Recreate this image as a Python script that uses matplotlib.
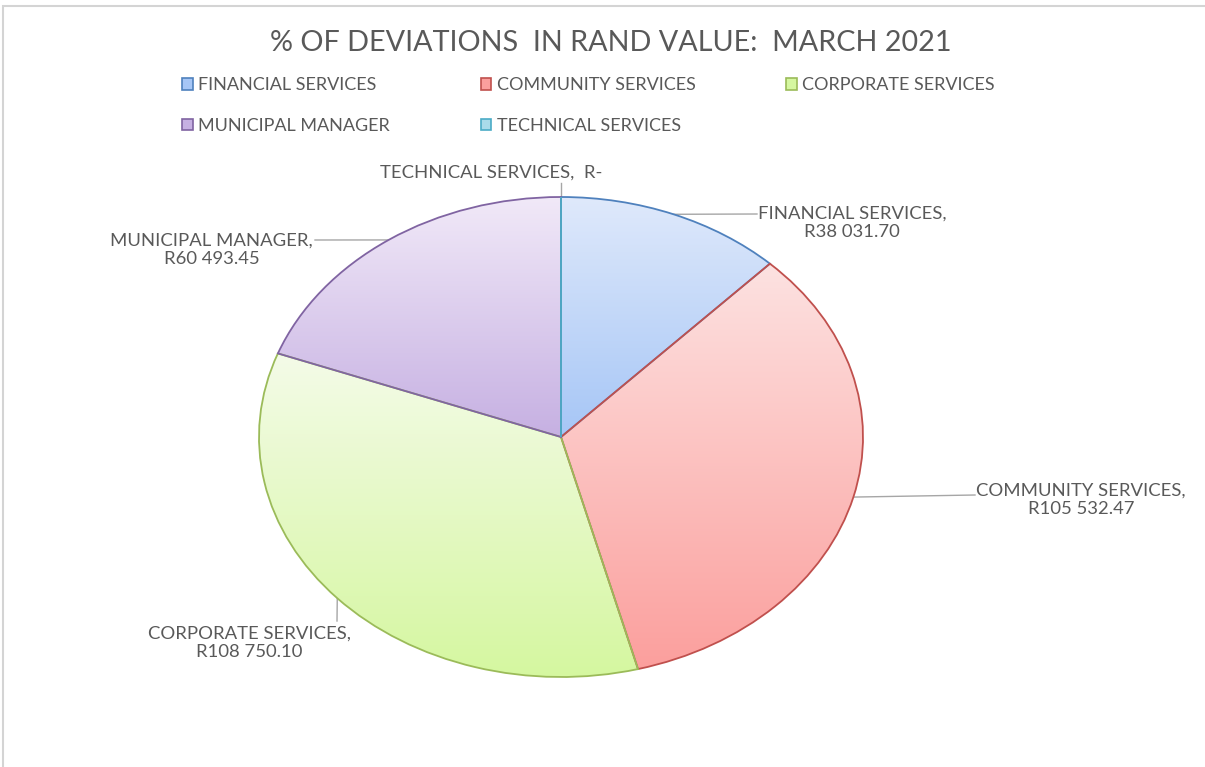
import numpy as np
import matplotlib
matplotlib.use("Agg")
import matplotlib.pyplot as plt
from matplotlib.colors import LinearSegmentedColormap
from matplotlib.patches import Patch, Rectangle

plt.rcParams['font.family'] = ['Lato', 'DejaVu Sans']

# deviations per department, rand
departments = ["FINANCIAL SERVICES", "COMMUNITY SERVICES", "CORPORATE SERVICES",
               "MUNICIPAL MANAGER", "TECHNICAL SERVICES"]
amounts = [38031.70, 105532.47, 108750.10, 60493.45, 0.0]
amount_labels = ["R38 031.70", "R105 532.47", "R108 750.10", "R60 493.45", "R-"]

# office style colours: outline, gradient top, gradient bottom
edge_colors = ["#4f81bd", "#c0504d", "#9bbb59", "#8064a2", "#4bacc6"]
top_colors = ["#dfe9fb", "#fde2e1", "#f4fbe8", "#f1e9f8", "#d8eff6"]
bottom_colors = ["#a6c6f6", "#fb9f9d", "#d5f7a0", "#c6b0e2", "#a9dbea"]

TEXT = "#595959"
W, H = 1205, 767
CX, CY, RX, RY = 561, 437, 302, 240   # pie centre and radii in pixels


def px(x, y):
    # pixel position -> data coords of the pie axes
    return (x - CX) / RX, (CY - y) / RY


fig = plt.figure(figsize=(W / 100, H / 100), dpi=100)
fig.patch.set_facecolor("white")
ax = fig.add_axes([0, 0, 1, 1])

wedges, _ = ax.pie(amounts, startangle=90, counterclock=False,
                   colors=top_colors, radius=1.0)
ax.set_aspect("auto")
ax.set_xlim(-CX / RX, (W - CX) / RX)
ax.set_ylim((CY - H) / RY, CY / RY)
ax.axis("off")

# gradient fill clipped to each wedge
for w, ec, c0, c1 in zip(wedges, edge_colors, top_colors, bottom_colors):
    w.set_facecolor("none")
    w.set_edgecolor(ec)
    w.set_linewidth(1.3)
    w.set_zorder(3)
    bb = w.get_path().get_extents(w.get_patch_transform())
    if bb.height <= 0 or bb.width <= 0:
        continue
    cmap = LinearSegmentedColormap.from_list("g", [c0, c1])
    grad = np.linspace(0, 1, 256).reshape(-1, 1)
    im = ax.imshow(grad, cmap=cmap, aspect="auto", origin="upper",
                   extent=(bb.x0, bb.x1, bb.y0, bb.y1), zorder=2,
                   interpolation="bilinear")
    im.set_clip_path(w)


def mid_point(w):
    a = np.deg2rad((w.theta1 + w.theta2) / 2)
    return np.cos(a), np.sin(a)


# data labels with leader lines
label_layout = [
    # leader end (px), text pos (px), ha
    ((757, 214), (758, 223), "left"),
    ((975, 495), (976, 500), "left"),
    ((337, 621), (249, 643), "center"),
    ((315, 240), (313, 250), "right"),
    ((561, 183), (491, 173), "center"),
]
for i, w in enumerate(wedges):
    (lx, ly), (tx, ty), ha = label_layout[i]
    sx, sy = mid_point(w)
    ex, ey = px(lx, ly)
    ax.plot([sx, ex], [sy, ey], color="#a6a6a6", lw=1.0, zorder=1)
    if amounts[i] == 0:
        txt = f"{departments[i]},  {amount_labels[i]}"
    else:
        txt = f"{departments[i]},\n{amount_labels[i]}"
    ax.text(*px(tx, ty), txt, ha=ha, va="center", multialignment="center",
            fontsize=13.3, color=TEXT, linespacing=1.15, zorder=4)

fig.text(611 / W, 1 - 43 / H, "% OF DEVIATIONS  IN RAND VALUE:  MARCH 2021",
         ha="center", va="center", fontsize=20.7, color=TEXT)

# legend laid out row by row: FIN, COMM, CORP / MUNI, TECH
order = [0, 3, 1, 4, 2]
handles = [Patch(facecolor=bottom_colors[i], edgecolor=edge_colors[i], lw=1.2)
           for i in order]
fig.legend(handles, [departments[i] for i in order], ncol=3,
           loc="upper left", bbox_to_anchor=(175 / W, 1 - 70 / H),
           frameon=False, fontsize=13, labelcolor=TEXT,
           handlelength=0.6, handleheight=0.6, handletextpad=0.3,
           columnspacing=5.0, labelspacing=1.35, borderaxespad=0)

# chart area outline
fig.add_artist(Rectangle((3 / W, -0.1), 1.2, 1 - 6 / H + 0.1,
                         transform=fig.transFigure, fill=False,
                         edgecolor="#d4d4d4", lw=1.5))

fig.savefig("out.png", dpi=100, facecolor="white")
